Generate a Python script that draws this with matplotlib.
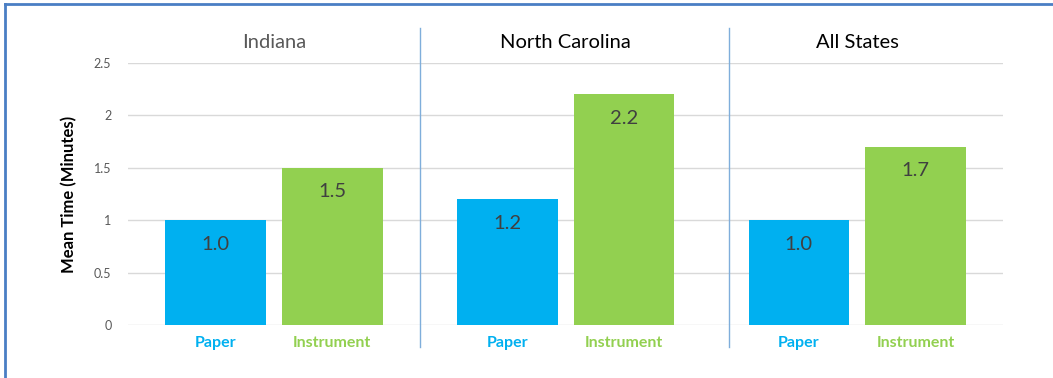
import matplotlib.pyplot as plt
from matplotlib.lines import Line2D
import numpy as np

states = ["Indiana", "North Carolina", "All States"]
methods = ["Paper", "Instrument"]
paper = [1.0, 1.2, 1.0]
instrument = [1.5, 2.2, 1.7]
yticks = [0, 0.5, 1, 1.5, 2, 2.5]

blue = "#00B0F0"
green = "#92D050"

plt.rcParams['font.family'] = ['Lato', 'DejaVu Sans']

fig = plt.figure(figsize=(10.53, 3.78), dpi=100)
ax = fig.add_axes([0.1216, 0.1402, 0.8310, 0.6931])

x = np.arange(len(states))
off = 0.2
w = 0.345
b1 = ax.bar(x - off, paper, w, color=blue, zorder=2)
b2 = ax.bar(x + off, instrument, w, color=green, zorder=2)

for bars, vals in [(b1, paper), (b2, instrument)]:
    for r, v in zip(bars, vals):
        ax.text(r.get_x() + r.get_width() / 2, v - 0.23, f"{v:.1f}",
                ha='center', va='center', fontsize=14.5, color='#404040')

ax.set_xlim(-0.5, 2.5)
ax.set_ylim(0, 2.5)
ax.set_yticks(yticks)
ax.set_yticklabels([f"{t:g}" for t in yticks], fontsize=9, color='#595959')
ax.yaxis.grid(True, color='#D9D9D9', linewidth=1, zorder=0)
ax.set_axisbelow(True)

# category labels under each bar
pos = np.concatenate([x - off, x + off])
labs = [methods[0]] * 3 + [methods[1]] * 3
ax.set_xticks(pos)
ax.set_xticklabels(labs, fontsize=11.5, fontweight='bold')
for t, lab in zip(ax.get_xticklabels(), labs):
    t.set_color(blue if lab == "Paper" else green)
ax.tick_params(axis='both', length=0)
ax.tick_params(axis='x', pad=8)
ax.tick_params(axis='y', pad=12)

for s in ax.spines.values():
    s.set_visible(False)

ax.set_ylabel("Mean Time (Minutes)", fontsize=12, fontweight='bold',
              color='black', labelpad=12)

# group titles
title_colors = ['#595959', 'black', 'black']
for i, (st, c) in enumerate(zip(states, title_colors)):
    ax.text(i, 2.70, st, ha='center', va='center', fontsize=14.5, color=c)

# separators between groups
for sx in [0.5, 1.56]:
    ax.plot([sx, sx], [-0.21, 2.83], color='#7FAEDB', linewidth=1,
            clip_on=False, zorder=1)

# frame around the chart
fig.add_artist(Line2D([5 / 1053, 5 / 1053], [0, 1 - 4 / 378],
                      transform=fig.transFigure, color='#4A7EC4', linewidth=2))
fig.add_artist(Line2D([5 / 1053, 1], [1 - 4 / 378, 1 - 4 / 378],
                      transform=fig.transFigure, color='#4A7EC4', linewidth=2))

fig.savefig("out.png", dpi=100)
